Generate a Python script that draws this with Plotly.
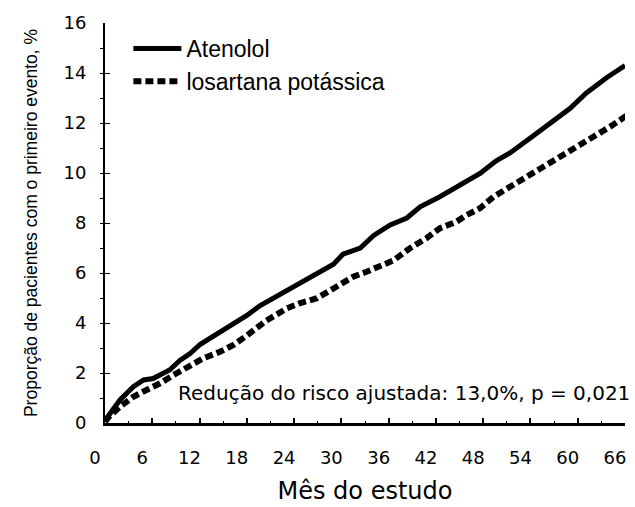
import plotly.graph_objects as go

# Atenolol (solid)
aten_months = [0, 0.5, 1.9, 3.6, 4.9, 6.1, 7.0, 8.2, 9.5, 10.8, 12.1, 14.2, 16.3, 18.0,
               19.7, 22.2, 24.7, 27.3, 29.0, 30.2, 32.4, 34.1, 36.2, 38.3, 40.0, 42.5,
               45.1, 47.6, 49.7, 51.4, 53.9, 56.5, 59.0, 61.1, 63.7, 66.0]
aten_values = [0.1, 0.3, 0.92, 1.45, 1.72, 1.78, 1.92, 2.12, 2.5, 2.78, 3.15, 3.55, 3.92, 4.3,
               4.7, 5.15, 5.55, 6.05, 6.35, 6.75, 7.0, 7.5, 7.92, 8.2, 8.65, 9.05,
               9.5, 9.98, 10.5, 10.8, 11.38, 11.98, 12.58, 13.2, 13.82, 14.3]

# Losartana potássica (dashed)
los_months = [0, 0.5, 1.9, 3.6, 5.7, 7.0, 8.7, 10.8, 12.5, 14.6, 16.3, 18.0, 20.5, 23.1,
              24.7, 26.9, 29.4, 31.5, 33.2, 34.9, 36.6, 38.7, 40.8, 42.5, 44.6, 45.9,
              47.6, 49.3, 51.4, 53.5, 55.2, 57.7, 59.9, 62.0, 64.1, 66.2]
los_values = [0.05, 0.25, 0.65, 1.05, 1.39, 1.59, 1.92, 2.32, 2.59, 2.85, 3.12, 3.5, 4.1, 4.59,
              4.79, 4.99, 5.45, 5.85, 6.05, 6.25, 6.5, 6.99, 7.39, 7.79, 8.05, 8.32,
              8.59, 9.05, 9.45, 9.85, 10.12, 10.65, 11.05, 11.45, 11.85, 12.3]

x_ticks = [0, 6, 12, 18, 24, 30, 36, 42, 48, 54, 60, 66]
y_ticks = [0, 2, 4, 6, 8, 10, 12, 14, 16]

fig = go.Figure()
fig.add_trace(go.Scatter(x=aten_months, y=aten_values, mode="lines", name="Atenolol",
                         line=dict(color="black", width=5), cliponaxis=False))
fig.add_trace(go.Scatter(x=los_months, y=los_values, mode="lines", name="losartana potássica",
                         line=dict(color="black", width=6, dash="8px,4px"), cliponaxis=False))

fig.add_annotation(text="Redução do risco ajustada: 13,0%, p = 0,021",
                   xref="paper", yref="paper", x=1.0, y=0.075, xanchor="right", yanchor="middle",
                   xshift=7, showarrow=False,
                   font=dict(family="DejaVu Sans", size=20, color="black"))

fig.update_layout(
    width=635, height=507,
    margin=dict(l=105, r=10, t=23, b=84),
    paper_bgcolor="white", plot_bgcolor="white",
    showlegend=True,
    legend=dict(x=0.045, y=0.99, xanchor="left", yanchor="top",
                font=dict(family="Liberation Sans", size=23, color="black"),
                bgcolor="rgba(0,0,0,0)", tracegroupgap=0, itemwidth=48),
    font=dict(family="DejaVu Sans", color="black"),
)
fig.update_xaxes(range=[0, 66], tickvals=x_ticks, ticktext=[str(v) for v in x_ticks],
                 automargin=False,
                 showgrid=False, zeroline=False, showline=True, linecolor="black", linewidth=3,
                 ticks="inside", ticklen=5, tickwidth=2, tickcolor="black",
                 minor=dict(dtick=3, ticks="inside", ticklen=2, tickcolor="black", tickwidth=1),
                 tickfont=dict(family="DejaVu Sans", size=18, color="black"),
                 ticklabelstandoff=16, ticklabelshift=-10, ticklabeloverflow="allow",
                 title=dict(text="Mês do estudo", font=dict(family="DejaVu Sans", size=24, color="black"),
                            standoff=16))
fig.update_yaxes(range=[0, 16], tickvals=y_ticks,
                 automargin=False,
                 showgrid=False, zeroline=False, showline=True, linecolor="black", linewidth=2,
                 ticks="inside", ticklen=5, tickwidth=1, tickcolor="black",
                 minor=dict(dtick=1, ticks="outside", ticklen=3, tickcolor="black", tickwidth=1),
                 tickfont=dict(family="DejaVu Sans", size=18, color="black"),
                 ticklabelstandoff=13,
                 title=dict(text="Proporção de pacientes com o primeiro evento, %",
                            font=dict(family="Liberation Sans", size=17.5, color="black"), standoff=21))

fig.write_html("out.html", config={"displayModeBar": False},
               post_script="document.body.style.margin='0px'; document.body.style.overflow='hidden';")
